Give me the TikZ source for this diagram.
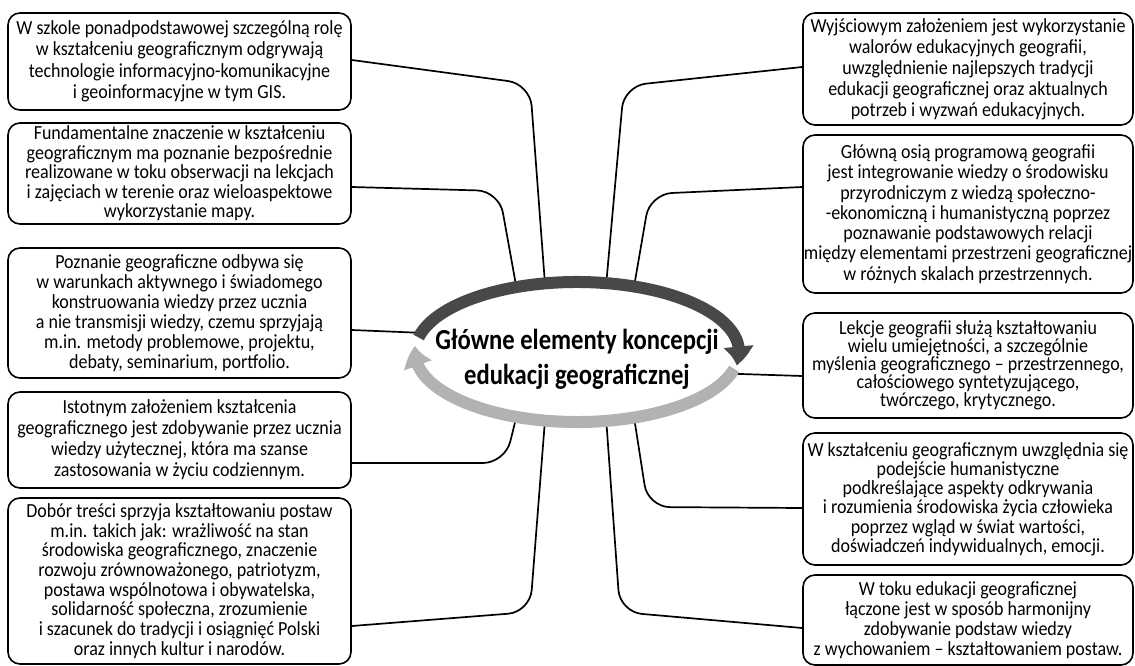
\documentclass[tikz,border=0pt]{standalone}
\usepackage{fontspec}
\setmainfont{Carlito}[FakeStretch=0.9]
\newfontfamily\titlefont{Carlito}[FakeStretch=0.85]
\usetikzlibrary{arrows.meta,bending,shapes.geometric}
\definecolor{arcdark}{HTML}{484848}
\definecolor{arclight}{HTML}{B2B2B2}
\tikzset{
  infobox/.style={draw=black, line width=1.6pt, rounded corners=12pt,
    align=center, inner sep=0pt, fill=white},
  txt/.style={font=\fontsize{20}{#1}\selectfont},
  link/.style={draw=black, line width=1.7pt, rounded corners=22pt},
  ring/.style={line width=12pt},
  hubshape/.style={ellipse, minimum width=324pt, minimum height=140pt, inner sep=0pt},
  title/.style={align=center, font=\titlefont\fontsize{29}{35}\selectfont\bfseries}
}
\begin{document}
\begin{tikzpicture}[x=1pt,y=-1pt]
\useasboundingbox (0,0) rectangle (1135,666);

% left column
\node[infobox, txt=21.5, minimum width=343pt, minimum height=97pt] (L1) at (179.5,61.5)
  {W szkole ponadpodstawowej szczególną rolę\\
   w kształceniu geograficznym odgrywają\\
   technologie informacyjno-komunikacyjne\\
   i geoinformacyjne w tym GIS.};
\node[infobox, txt=19.5, minimum width=343pt, minimum height=101pt] (L2) at (179.5,173.5)
  {Fundamentalne znaczenie w kształceniu\\
   geograficznym ma poznanie bezpośrednie\\
   realizowane w toku obserwacji na lekcjach\\
   i zajęciach w terenie oraz wieloaspektowe\\
   wykorzystanie mapy.};
\node[infobox, txt=20, minimum width=343pt, minimum height=130pt] (L3) at (179.5,313)
  {Poznanie geograficzne odbywa się\\
   w warunkach aktywnego i świadomego\\
   konstruowania wiedzy przez ucznia\\
   a nie transmisji wiedzy, czemu sprzyjają\\
   m.in. metody problemowe, projektu,\\
   debaty, seminarium, portfolio.};
\node[infobox, txt=21, minimum width=343pt, minimum height=96pt] (L4) at (179.5,440)
  {Istotnym założeniem kształcenia\\
   geograficznego jest zdobywanie przez ucznia\\
   wiedzy użytecznej, która ma szanse\\
   zastosowania w życiu codziennym.};
\node[infobox, txt=19.7, minimum width=343pt, minimum height=166pt] (L5) at (179.5,581)
  {Dobór treści sprzyja kształtowaniu postaw\\
   m.in. takich jak: wrażliwość na stan\\
   środowiska geograficznego, znaczenie\\
   rozwoju zrównoważonego, patriotyzm,\\
   postawa wspólnotowa i obywatelska,\\
   solidarność społeczna, zrozumienie\\
   i szacunek do tradycji i osiągnięć Polski\\
   oraz innych kultur i narodów.};

% right column
\node[infobox, txt=21, minimum width=330pt, minimum height=112pt] (R1) at (968,69)
  {Wyjściowym założeniem jest wykorzystanie\\
   walorów edukacyjnych geografii,\\
   uwzględnienie najlepszych tradycji\\
   edukacji geograficznej oraz aktualnych\\
   potrzeb i wyzwań edukacyjnych.};
\node[infobox, txt=20.3, minimum width=330pt, minimum height=158pt] (R2) at (968,214)
  {Główną osią programową geografii\\
   jest integrowanie wiedzy o środowisku\\
   przyrodniczym z wiedzą społeczno-\\
   -ekonomiczną i humanistyczną poprzez\\
   poznawanie podstawowych relacji\\
   między elementami przestrzeni geograficznej\\
   w różnych skalach przestrzennych.};
\node[infobox, txt=18, minimum width=330pt, minimum height=105pt] (R3) at (968,365.5)
  {Lekcje geografii służą kształtowaniu\\
   wielu umiejętności, a szczególnie\\
   myślenia geograficznego – przestrzennego,\\
   całościowego syntetyzującego,\\
   twórczego, krytycznego.};
\node[infobox, txt=19.2, minimum width=330pt, minimum height=132pt] (R4) at (968,499)
  {W kształceniu geograficznym uwzględnia się\\
   podejście humanistyczne\\
   podkreślające aspekty odkrywania\\
   i rozumienia środowiska życia człowieka\\
   poprzez wgląd w świat wartości,\\
   doświadczeń indywidualnych, emocji.};
\node[infobox, txt=20, minimum width=330pt, minimum height=90pt] (R5) at (968,620)
  {W toku edukacji geograficznej\\
   łączone jest w sposób harmonijny\\
   zdobywanie podstaw wiedzy\\
   z wychowaniem – kształtowaniem postaw.};

% central ellipse
\node[hubshape] (hub) at (577,352) {};

% connectors
\draw[link] ([yshift=1.5pt]L1.east) -- (530,84) -- (hub.115);
\draw[link] ([yshift=-13.5pt]L2.east) -- (499,191) -- (hub.133);
\draw[link] ([yshift=-17pt]L3.east) -- (hub.173);
\draw[link] ([yshift=-23pt]L4.east) -- (505,463) -- (hub.227);
\draw[link] ([yshift=-45pt]L5.east) -- (530,612) -- (hub.245);
\draw[link] ([yshift=2pt]R1.west) -- (624,86) -- (hub.67);
\draw[link] ([yshift=27pt]R2.west) -- (650,194) -- (hub.49);
\draw[link] ([yshift=-10.5pt]R3.west) -- (hub.-8);
\draw[link] ([yshift=-9pt]R4.west) -- (648,507) -- (hub.-49);
\draw[link] ([yshift=-8pt]R5.west) -- (620,612) -- (hub.-67);

% circular arrows around the title
\draw[ring, arclight, -{Triangle[length=20pt,width=28pt,bend]}]
  (hub.center) ++(14:162 and 70) arc[start angle=14, end angle=185, x radius=162, y radius=70];
\draw[ring, arcdark, -{Triangle[length=20pt,width=28pt,bend]}]
  (hub.center) ++(192:162 and 70) arc[start angle=192, end angle=371, x radius=162, y radius=70];

\node[title] (ttl) at ([yshift=-7pt]hub.center) {Główne elementy koncepcji\\edukacji geograficznej};
\end{tikzpicture}
\end{document}
